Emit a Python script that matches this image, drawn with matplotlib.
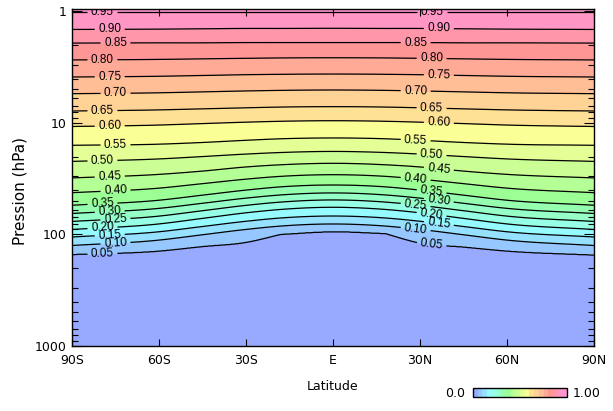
import numpy as np
import matplotlib
matplotlib.use("Agg")
import matplotlib.pyplot as plt

# ---------------- data ----------------
lats = [-90, -60, -45, -30, -18, 0, 18, 30, 45, 60, 90]
levels = [0.05, 0.10, 0.15, 0.20, 0.25, 0.30, 0.35, 0.40, 0.45,
          0.50, 0.55, 0.60, 0.65, 0.70, 0.75, 0.80, 0.85, 0.90, 0.95]
# pressure (hPa) of each contour level at each latitude
p_005 = [151.1, 140.6, 128.1, 117.5, 99.6, 94.4, 97.9, 119.2, 129.4, 140.6, 152.7]
p_010 = [125.5, 112.2, 100.5, 90.0, 84.0, 80.5, 84.0, 90.0, 100.5, 112.2, 125.5]
p_015 = [105.3, 94.5, 84.8, 76.1, 71.1, 68.3, 71.1, 76.1, 84.8, 94.5, 105.3]
p_020 = [90.2, 80.4, 71.7, 63.9, 59.6, 57.0, 59.6, 63.9, 71.7, 80.4, 90.2]
p_025 = [76.4, 68.4, 61.2, 54.8, 51.2, 49.0, 51.2, 54.8, 61.2, 68.4, 76.4]
p_030 = [64.8, 58.3, 52.5, 47.2, 44.2, 42.4, 44.2, 47.2, 52.5, 58.3, 64.8]
p_035 = [54.7, 49.3, 44.4, 40.0, 37.4, 36.0, 37.4, 40.0, 44.4, 49.3, 54.7]
p_040 = [42.2, 38.4, 35.0, 31.9, 30.1, 29.1, 30.1, 31.9, 35.0, 38.4, 42.2]
p_045 = [31.1, 28.9, 27.0, 24.8, 23.7, 23.0, 23.7, 24.8, 27.0, 28.9, 31.1]
p_050 = [22.1, 21.0, 20.0, 19.0, 18.4, 18.0, 18.4, 19.0, 20.0, 21.0, 22.1]
p_055 = [15.85, 15.49, 14.96, 14.30, 13.86, 13.63, 13.86, 14.30, 14.96, 15.49, 15.85]
p_060 = [10.75, 10.43, 10.12, 9.83, 9.65, 9.54, 9.65, 9.83, 10.12, 10.43, 10.75]
p_065 = [7.81, 7.63, 7.47, 7.31, 7.20, 7.14, 7.20, 7.31, 7.47, 7.63, 7.81]
p_070 = [5.46, 5.36, 5.26, 5.16, 5.10, 5.06, 5.10, 5.16, 5.26, 5.36, 5.46]
p_075 = [3.87, 3.81, 3.75, 3.69, 3.66, 3.64, 3.66, 3.69, 3.75, 3.81, 3.87]
p_080 = [2.72, 2.69, 2.66, 2.63, 2.61, 2.60, 2.61, 2.63, 2.66, 2.69, 2.72]
p_085 = [1.92, 1.91, 1.91, 1.90, 1.90, 1.90, 1.90, 1.90, 1.91, 1.91, 1.92]
p_090 = [1.45, 1.44, 1.43, 1.42, 1.42, 1.415, 1.42, 1.42, 1.43, 1.44, 1.45]
p_095 = [1.0, 1.0, 1.0, 1.0, 1.0, 1.0, 1.0, 1.0, 1.0, 1.0, 1.0]
# latitudes where the lowest contour bends sharply
kink_lats = [-18, 18]
# field value at the bottom / top boundaries
bottom_p, bottom_v = 1100.0, 0.0
top_p, top_v = 0.8, 1.0

xtick_vals = [-90, -60, -30, 0, 30, 60, 90]
xtick_labels = ["90S", "60S", "30S", "E", "30N", "60N", "90N"]
ytick_vals = [1, 10, 100, 1000]
ytick_labels = ["1", "10", "100", "1000"]

band_colors = ["#98aaff", "#96c8ff", "#96e1ff", "#96fbff", "#96ffe6",
               "#96ffc8", "#96ffaf", "#9cff96", "#b4ff96", "#cbff96",
               "#e3ff96", "#faff96", "#ffe196", "#ffd296", "#ffbe96",
               "#ffaa96", "#ff9696", "#ff96aa", "#ff96c3", "#ff96d2"]


def hermite(xk, yk, x):
    """Piecewise cubic Hermite curve through the given points."""
    xk = np.asarray(xk, float)
    yk = np.asarray(yk, float)
    h = np.diff(xk)
    d = np.diff(yk) / h
    m = np.empty_like(yk)
    m[0], m[-1] = d[0], d[-1]
    if len(xk) > 2:
        m[1:-1] = (d[:-1] * h[1:] + d[1:] * h[:-1]) / (h[:-1] + h[1:])
    idx = np.clip(np.searchsorted(xk, x) - 1, 0, len(xk) - 2)
    t = (x - xk[idx]) / h[idx]
    h00 = 2 * t**3 - 3 * t**2 + 1
    h10 = t**3 - 2 * t**2 + t
    h01 = -2 * t**3 + 3 * t**2
    h11 = t**3 - t**2
    return (h00 * yk[idx] + h10 * h[idx] * m[idx] + h01 * yk[idx + 1]
            + h11 * h[idx] * m[idx + 1])


def segmented(xk, yk, x, breaks):
    """Smooth curve within segments, with sharp bends at the break points."""
    xk = np.asarray(xk, float)
    yk = np.asarray(yk, float)
    edges = [xk[0]] + list(breaks) + [xk[-1]]
    out = np.empty_like(x)
    for a, b in zip(edges[:-1], edges[1:]):
        sel_k = (xk >= a) & (xk <= b)
        sel = (x >= a) & (x <= b)
        out[sel] = hermite(xk[sel_k], yk[sel_k], x[sel])
    return out


# ---------------- build the field ----------------
P = np.array([p_005, p_010, p_015, p_020, p_025, p_030, p_035, p_040, p_045,
              p_050, p_055, p_060, p_065, p_070, p_075, p_080, p_085, p_090, p_095])
logP = np.log10(P)
lev = np.array(levels)
lat_fine = np.linspace(-90, 90, 721)
rows = []
for i, row in enumerate(logP):
    if i == 0:
        rows.append(segmented(lats, row, lat_fine, kink_lats))
    else:
        rows.append(hermite(lats, row, lat_fine))
logP_fine = np.array(rows)
p_fine = np.logspace(np.log10(top_p), np.log10(bottom_p), 800)
Z = np.zeros((p_fine.size, lat_fine.size))
for j in range(lat_fine.size):
    xs = np.concatenate([[np.log10(top_p)], logP_fine[::-1, j], [np.log10(bottom_p)]])
    vs = np.concatenate([[top_v], lev[::-1], [bottom_v]])
    Z[:, j] = np.interp(np.log10(p_fine), xs, vs)

# ---------------- figure ----------------
W, H = 613, 411
fig = plt.figure(figsize=(W / 100, H / 100), dpi=100)
ax = fig.add_axes([72 / W, 1 - 346 / H, 522 / W, 337 / H])

fill_levels = np.linspace(0, 1, 21)
cf = ax.contourf(lat_fine, p_fine, Z, levels=fill_levels, colors=band_colors)
cs = ax.contour(lat_fine, p_fine, Z, levels=levels, colors="k", linewidths=0.9)

ax.set_yscale("log")
ax.set_ylim(1000, 0.95)
ax.set_xlim(-90, 90)

# contour labels
left_pos = [-79.5, -77.0, -75.0]
right_pos = [34.0, 36.5, 28.5]
manual = []
for i, lv in enumerate(levels):
    k = len(levels) - 1 - i
    for lat in (left_pos[k % 3], right_pos[k % 3]):
        pl = 10 ** np.interp(lat, lat_fine, logP_fine[i])
        manual.append((lat, pl))
lbls = ax.clabel(cs, levels=levels, fmt="%.2f", manual=manual, inline=True,
                 inline_spacing=2, fontsize=8.5)
for t in lbls:
    t.set_family(["Liberation Sans", "DejaVu Sans"])

ax.set_xticks(xtick_vals)
ax.set_xticklabels(xtick_labels)
ax.set_yticks(ytick_vals)
ax.set_yticklabels(ytick_labels)
ax.yaxis.set_minor_formatter(matplotlib.ticker.NullFormatter())
ax.tick_params(axis="both", which="both", direction="in", top=True, right=True,
               labelsize=9)
ax.tick_params(axis="y", which="major", length=7, width=0.8, pad=4)
ax.tick_params(axis="y", which="minor", length=4, width=0.8)
ax.tick_params(axis="x", which="major", length=5, width=0.8, pad=6)
for s in ax.spines.values():
    s.set_linewidth(1.0)

fig.text(333 / W, 1 - 386 / H, "Latitude", ha="center", va="center", fontsize=9)
fig.text(20 / W, 1 - 191 / H, "Pression (hPa)", ha="center", va="center",
         rotation=90, fontsize=11)

# colorbar
cax = fig.add_axes([473 / W, 1 - 397 / H, 94 / W, 9 / H])
cb = fig.colorbar(cf, cax=cax, orientation="horizontal")
cb.set_ticks([])
cb.outline.set_linewidth(1.0)
fig.text(465 / W, 1 - 393 / H, "0.0", ha="right", va="center", fontsize=9)
fig.text(573 / W, 1 - 393 / H, "1.00", ha="left", va="center", fontsize=9)

fig.savefig("out.png", dpi=100)
